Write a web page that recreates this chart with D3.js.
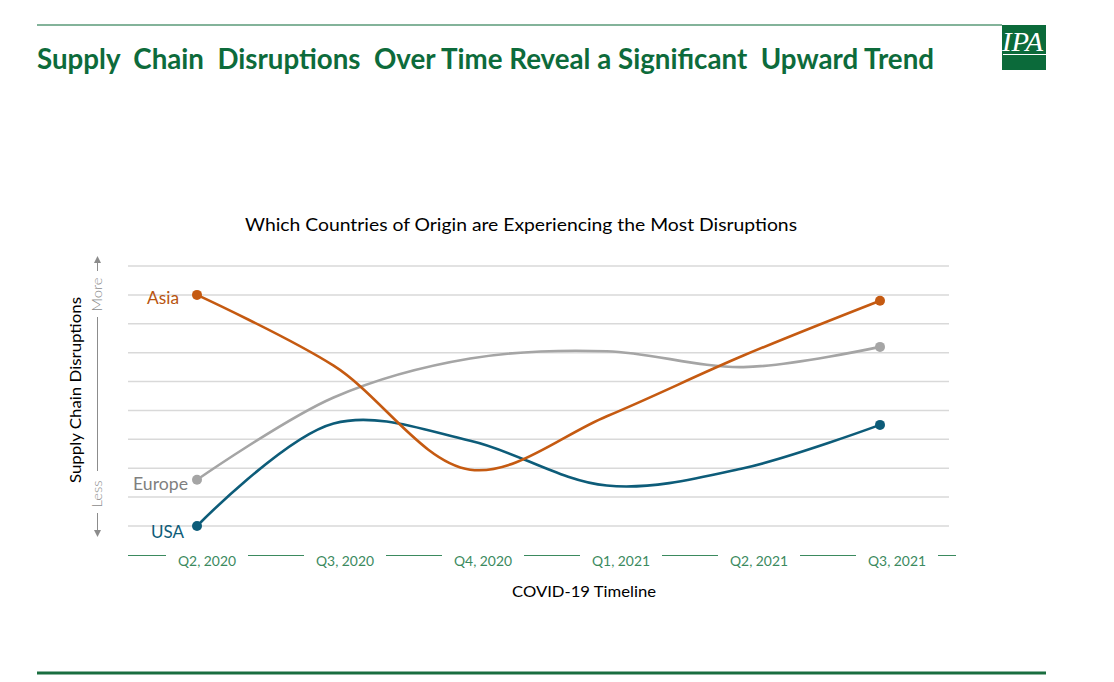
<!DOCTYPE html>
<html>
<head>
<meta charset="utf-8">
<script src="https://cdn.jsdelivr.net/npm/d3@7"></script>
<style>
  html, body { margin: 0; padding: 0; background: #ffffff; }
  svg { display: block; }
</style>
</head>
<body>
<svg id="chart" width="1114" height="682"></svg>
<script>
// ---------- data ----------
const categories = ["Q2, 2020", "Q3, 2020", "Q4, 2020", "Q1, 2021", "Q2, 2021", "Q3, 2021"];
const seriesNames = ["Asia", "Europe", "USA"];
const asiaValues = [8.0, 5.55, 1.95, 3.8, 5.9, 7.8];
const europeValues = [1.6, 4.45, 5.8, 6.05, 5.5, 6.2];
const usaValues = [0.0, 3.55, 2.95, 1.4, 2.0, 3.5];
const gridTicks = [0, 1, 2, 3, 4, 5, 6, 7, 8, 9];

const titleText = "Supply  Chain  Disruptions  Over Time Reveal a Significant  Upward Trend";
const chartTitle = "Which Countries of Origin are Experiencing the Most Disruptions";
const yTitle = "Supply Chain Disruptions";
const xTitle = "COVID-19 Timeline";

// ---------- styles ----------
const colors = { Asia: "#c55a11", Europe: "#a5a5a5", USA: "#0d5c79" };
const labelColors = { Asia: "#b8540f", Europe: "#7f7f7f", USA: "#0d5c79" };
const green = "#0d6b3b";
const axisGreen = "#3b8a5e";
const fontFam = "Lato, 'Open Sans', sans-serif";

const svg = d3.select("#chart");
svg.append("rect").attr("width", 1114).attr("height", 682).attr("fill", "#fff");

// ---------- header ----------
svg.append("line").attr("x1", 37).attr("x2", 1002).attr("y1", 25).attr("y2", 25)
  .attr("stroke", "#5a9a78").attr("stroke-width", 1.5);

svg.append("text").attr("x", 37).attr("y", 69)
  .attr("font-family", fontFam).attr("font-weight", "bold").attr("font-size", 28)
  .attr("fill", green)
  .attr("textLength", 897).attr("lengthAdjust", "spacingAndGlyphs")
  .style("white-space", "pre")
  .text(titleText);

// logo
svg.append("rect").attr("x", 1002).attr("y", 25).attr("width", 44).attr("height", 45).attr("fill", "#0b6a3a");
svg.append("text").attr("x", 1002).attr("y", 51)
  .attr("font-family", "'Liberation Serif', 'DejaVu Serif', serif").attr("font-style", "italic")
  .attr("font-size", 27).attr("fill", "#fff")
  .attr("textLength", 41).attr("lengthAdjust", "spacingAndGlyphs")
  .text("IPA");
svg.append("line").attr("x1", 1003).attr("x2", 1046).attr("y1", 54.5).attr("y2", 54.5)
  .attr("stroke", "#fff").attr("stroke-width", 1);

// bottom line
svg.append("line").attr("x1", 37).attr("x2", 1046).attr("y1", 673).attr("y2", 673)
  .attr("stroke", "#1a6e40").attr("stroke-width", 3);

// ---------- scales ----------
const x = d3.scalePoint().domain(categories).range([197, 880]);
const xLabel = d3.scalePoint().domain(categories).range([207, 897]);
const y = d3.scaleLinear().domain([0, 9]).range([526, 266]);

// chart title
svg.append("text").attr("x", 521).attr("y", 231).attr("text-anchor", "middle")
  .attr("font-family", fontFam).attr("font-size", 17).attr("fill", "#000")
  .attr("textLength", 552).attr("lengthAdjust", "spacingAndGlyphs")
  .text(chartTitle);

// gridlines
svg.append("g").selectAll("line").data(gridTicks).join("line")
  .attr("x1", 128).attr("x2", 949)
  .attr("y1", d => y(d)).attr("y2", d => y(d))
  .attr("stroke", "#d9d9d9").attr("stroke-width", 1.5);

// x axis line with labels
svg.append("line").attr("x1", 128).attr("x2", 956).attr("y1", 555.5).attr("y2", 555.5)
  .attr("stroke", axisGreen).attr("stroke-width", 1.2);
const xg = svg.append("g");
xg.selectAll("rect").data(categories).join("rect")
  .attr("x", d => xLabel(d) - 41).attr("width", 82)
  .attr("y", 548).attr("height", 16).attr("fill", "#fff");
xg.selectAll("text").data(categories).join("text")
  .attr("x", d => xLabel(d)).attr("y", 566).attr("text-anchor", "middle")
  .attr("font-family", fontFam).attr("font-size", 13).attr("fill", axisGreen)
  .attr("textLength", 58).attr("lengthAdjust", "spacingAndGlyphs")
  .text(d => d);

svg.append("text").attr("x", 584).attr("y", 597).attr("text-anchor", "middle")
  .attr("font-family", fontFam).attr("font-size", 15).attr("fill", "#000")
  .attr("textLength", 144).attr("lengthAdjust", "spacingAndGlyphs")
  .text(xTitle);

// y axis title
svg.append("text").attr("transform", "translate(81,390) rotate(-90)").attr("text-anchor", "middle")
  .attr("font-family", fontFam).attr("font-size", 15).attr("fill", "#000")
  .attr("textLength", 186).attr("lengthAdjust", "spacingAndGlyphs")
  .text(yTitle);

// More / Less indicator
const ax = 97.5;
const arrowColor = "#8c8c8c";
svg.append("line").attr("x1", ax).attr("x2", ax).attr("y1", 262).attr("y2", 271).attr("stroke", arrowColor).attr("stroke-width", 1);
svg.append("line").attr("x1", ax).attr("x2", ax).attr("y1", 317).attr("y2", 471).attr("stroke", arrowColor).attr("stroke-width", 1);
svg.append("line").attr("x1", ax).attr("x2", ax).attr("y1", 513).attr("y2", 531).attr("stroke", arrowColor).attr("stroke-width", 1);
svg.append("path").attr("d", `M${ax - 3.5},263 L${ax},256 L${ax + 3.5},263 Z`).attr("fill", arrowColor);
svg.append("path").attr("d", `M${ax - 3.5},530 L${ax},537 L${ax + 3.5},530 Z`).attr("fill", arrowColor);
svg.append("text").attr("transform", `translate(${ax + 4.5},294.5) rotate(-90)`).attr("text-anchor", "middle")
  .attr("font-family", fontFam).attr("font-weight", 300).attr("font-size", 14).attr("fill", arrowColor)
  .attr("textLength", 34).attr("lengthAdjust", "spacingAndGlyphs").text("More");
svg.append("text").attr("transform", `translate(${ax + 4.5},494) rotate(-90)`).attr("text-anchor", "middle")
  .attr("font-family", fontFam).attr("font-weight", 300).attr("font-size", 14).attr("fill", arrowColor)
  .attr("textLength", 27).attr("lengthAdjust", "spacingAndGlyphs").text("Less");

// ---------- series ----------
const seriesData = { Asia: asiaValues, Europe: europeValues, USA: usaValues };
const line = d3.line()
  .x((d, i) => x(categories[i]))
  .y(d => y(d))
  .curve(d3.curveCatmullRom.alpha(0.5));

const drawOrder = ["Europe", "USA", "Asia"];
drawOrder.forEach(name => {
  const vals = seriesData[name];
  svg.append("path").datum(vals).attr("d", line)
    .attr("fill", "none").attr("stroke", colors[name]).attr("stroke-width", 2.6)
    .attr("stroke-linecap", "round");
  const ends = [0, vals.length - 1];
  svg.append("g").selectAll("circle").data(ends).join("circle")
    .attr("cx", i => x(categories[i])).attr("cy", i => y(vals[i]))
    .attr("r", 5).attr("fill", colors[name]);
});

// series labels
const labelOffsets = { Asia: { dx: -18, dy: 9 }, Europe: { dx: -9, dy: 10 }, USA: { dx: -13, dy: 12 } };
const labelWidths = { Asia: 32, Europe: 55, USA: 33 };
seriesNames.forEach(name => {
  const v = seriesData[name][0];
  svg.append("text")
    .attr("x", x(categories[0]) + labelOffsets[name].dx)
    .attr("y", y(v) + labelOffsets[name].dy)
    .attr("text-anchor", "end")
    .attr("font-family", fontFam).attr("font-size", 17).attr("fill", labelColors[name])
    .attr("textLength", labelWidths[name]).attr("lengthAdjust", "spacingAndGlyphs")
    .text(name);
});
</script>
</body>
</html>
